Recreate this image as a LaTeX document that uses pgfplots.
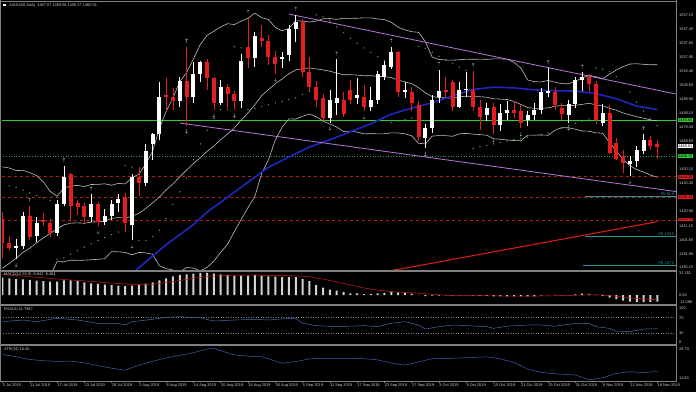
\documentclass[border=0pt]{standalone}
\usepackage{pgfplots}
\pgfplotsset{compat=1.18}
\usepackage{pgfplotstable}
\usepackage{fontspec}
\setmainfont{Liberation Sans}
\definecolor{txt}{RGB}{205,205,205}
\definecolor{sep}{RGB}{128,128,128}
\definecolor{bull}{RGB}{255,255,255}
\definecolor{bear}{RGB}{228,30,30}
\definecolor{bbc}{RGB}{190,190,190}
\definecolor{maA}{RGB}{30,40,190}
\definecolor{maB}{RGB}{215,25,25}
\definecolor{chan}{RGB}{185,120,215}
\definecolor{grn}{RGB}{50,205,50}
\definecolor{grnd}{RGB}{46,160,90}
\definecolor{sarc}{RGB}{60,170,60}
\definecolor{redd}{RGB}{175,30,30}
\definecolor{tealc}{RGB}{40,150,160}
\definecolor{macdc}{RGB}{210,210,210}
\definecolor{sigc}{RGB}{200,30,30}
\definecolor{rsic}{RGB}{75,105,175}
\definecolor{atrc}{RGB}{65,95,175}
\newcommand{\tf}{\fontsize{3.9}{4.2}\selectfont}
\pgfdeclareplotmark{fup}{\pgfsetlinewidth{0.35pt}\pgfpathmoveto{\pgfpoint{0pt}{-2pt}}\pgfpathlineto{\pgfpoint{0pt}{2pt}}\pgfpathmoveto{\pgfpoint{-1.2pt}{0.8pt}}\pgfpathlineto{\pgfpoint{0pt}{2pt}}\pgfpathlineto{\pgfpoint{1.2pt}{0.8pt}}\pgfusepathqstroke}
\pgfdeclareplotmark{fdn}{\pgfsetlinewidth{0.35pt}\pgfpathmoveto{\pgfpoint{0pt}{2pt}}\pgfpathlineto{\pgfpoint{0pt}{-2pt}}\pgfpathmoveto{\pgfpoint{-1.2pt}{-0.8pt}}\pgfpathlineto{\pgfpoint{0pt}{-2pt}}\pgfpathlineto{\pgfpoint{1.2pt}{-0.8pt}}\pgfusepathqstroke}

\pgfplotstableread{
i o h l c
2 1395 1401 1387 1396
3 1396 1420 1394 1417
5 1403 1416 1399 1412
8 1405 1428 1403 1425
9 1425 1452 1424 1444
13 1416 1432 1413 1425
15 1413 1422 1411 1417
16 1417 1428 1414 1425
17 1426 1432 1420 1429
19 1411 1446 1400 1444
21 1440 1467 1438 1462
22 1467 1475 1456 1474
23 1474 1510 1470 1500
26 1497 1514 1493 1511
28 1500 1524 1496 1516
29 1516 1525 1510 1524
32 1496 1512 1494 1507
35 1497 1530 1492 1525
37 1527 1545 1521 1542
41 1526 1531 1520 1528
42 1529 1550 1525 1547
43 1547 1557 1538 1552
48 1485 1505 1482 1498
49 1496 1526 1487 1499
52 1499 1513 1495 1501
54 1493 1507 1490 1498
55 1498 1518 1495 1516
56 1514 1525 1512 1522
57 1521 1535 1519 1531
59 1504 1510 1499 1504.5
62 1471 1481 1464 1478
63 1478 1501 1475 1498
64 1500 1519 1496 1504
67 1493 1510 1492 1505
68 1505 1517 1500 1505.5
71 1487 1496 1483 1492
73 1480 1495 1476 1489
74 1489 1497 1484 1491
77 1484 1490 1480 1487
78 1487 1496 1484 1491
79 1491 1506 1488 1503
80 1503 1520 1500 1504
83 1487 1498 1482 1495
84 1495 1514 1492 1512
85 1512 1517 1504 1514
88 1482 1495 1480 1489
92 1453 1459 1445 1455
93 1455 1466 1451 1463
94 1462 1474 1460 1470
}\bulltab

\pgfplotstableread{
i o h l c
0 1415 1420 1388 1398
1 1398 1403 1393 1395
4 1417 1424 1400 1402
6 1414 1419 1410 1412.5
7 1412 1415 1402 1405
10 1446 1447 1413 1424
11 1426 1428 1418 1423
12 1424 1426 1412 1416
14 1425 1427 1410 1413
18 1430 1433 1406 1412
20 1444 1451 1431 1440
24 1501 1513 1490 1500
25 1500 1506 1491 1497
27 1511 1535 1480 1500
30 1524 1526 1505 1513
31 1513 1514 1491 1496
33 1507 1509 1492 1502
34 1502 1504 1491 1497
36 1535 1555 1520 1527
38 1541 1550 1535 1539
39 1539 1543 1522 1528
40 1528 1532 1516 1523
44 1552 1554 1514 1517
45 1517 1528 1504 1507
46 1507 1511 1493 1498
47 1499 1502 1483 1485
50 1498 1503 1486 1488
51 1505 1512 1495 1498
53 1500 1508 1490 1493
58 1531 1532 1500 1503
60 1503 1507 1490 1496
61 1494 1497 1469 1472
65 1505 1514 1500 1503
66 1510 1512 1490 1493
69 1505 1518 1490 1493
70 1493 1498 1477 1486
72 1493 1496 1474 1480
75 1491 1497 1485 1489
76 1490 1494 1478 1482
81 1503 1507 1491 1494
82 1492 1496 1484 1488
86 1514 1516 1503 1509
87 1509 1511 1481 1484
89 1489 1494 1460 1461
90 1468 1471 1456 1457
91 1459 1463 1447 1454
95 1470 1473 1463 1466
96 1467.07 1469.58 1456.37 1465.01
}\beartab

\pgfplotstableread{
i mid up lo
0 1380.6 1451.2 1310.0
1 1384.0 1450.4 1317.6
2 1387.5 1448.6 1326.3
3 1391.6 1448.8 1334.4
4 1394.6 1447.2 1342.0
5 1398.2 1445.1 1351.2
6 1401.8 1440.7 1362.9
7 1404.8 1434.1 1375.4
8 1408.0 1430.7 1385.2
9 1410.8 1436.5 1385.1
10 1412.0 1437.8 1386.2
11 1412.2 1438.3 1386.1
12 1411.9 1437.5 1386.2
13 1412.7 1438.9 1386.5
14 1412.9 1439.0 1386.8
15 1413.3 1439.4 1387.2
16 1415.3 1438.4 1392.2
17 1415.9 1439.7 1392.0
18 1415.5 1439.3 1391.6
19 1416.8 1443.7 1389.9
20 1418.9 1446.1 1391.6
21 1422.2 1453.1 1391.3
22 1426.1 1461.8 1390.3
23 1430.2 1478.0 1382.4
24 1435.1 1489.9 1380.3
25 1439.4 1499.3 1379.4
26 1444.3 1510.5 1378.0
27 1449.0 1516.9 1381.1
28 1453.6 1526.4 1380.7
29 1457.6 1536.4 1378.7
30 1462.0 1542.8 1381.2
31 1465.7 1545.7 1385.6
32 1470.2 1548.7 1391.7
33 1474.1 1550.9 1397.2
34 1478.3 1550.3 1406.2
35 1483.7 1552.7 1414.6
36 1488.8 1554.7 1422.8
37 1494.4 1558.2 1430.6
38 1500.8 1555.1 1446.5
39 1505.0 1553.8 1456.1
40 1509.1 1548.3 1469.9
41 1512.4 1545.9 1478.9
42 1516.1 1547.6 1484.6
43 1518.7 1552.9 1484.5
44 1519.6 1552.7 1486.4
45 1520.1 1552.1 1488.0
46 1519.4 1552.7 1486.1
47 1518.7 1554.3 1483.0
48 1517.8 1554.5 1481.0
49 1516.5 1553.9 1479.0
50 1515.3 1554.7 1475.8
51 1515.4 1554.6 1476.1
52 1515.1 1554.7 1475.4
53 1514.6 1555.0 1474.2
54 1514.7 1555.0 1474.3
55 1514.2 1554.2 1474.2
56 1514.0 1553.7 1474.2
57 1513.4 1551.9 1474.9
58 1511.6 1548.5 1474.8
59 1510.4 1546.6 1474.2
60 1509.1 1545.3 1472.8
61 1506.3 1544.9 1467.6
62 1502.8 1538.4 1467.2
63 1500.1 1527.6 1472.6
64 1499.5 1526.0 1473.0
65 1499.3 1525.6 1472.9
66 1499.0 1525.5 1472.5
67 1500.0 1525.8 1474.2
68 1500.4 1526.2 1474.5
69 1500.1 1526.1 1474.0
70 1500.0 1526.2 1473.7
71 1499.7 1526.1 1473.2
72 1498.6 1526.4 1470.8
73 1498.4 1526.4 1470.4
74 1498.1 1526.2 1469.9
75 1496.7 1523.9 1469.5
76 1494.7 1520.0 1469.4
77 1492.5 1511.7 1473.3
78 1491.9 1510.5 1473.3
79 1491.9 1510.3 1473.4
80 1492.3 1511.4 1473.2
81 1493.4 1510.1 1476.7
82 1493.9 1509.2 1478.5
83 1493.7 1509.0 1478.4
84 1494.1 1510.8 1477.4
85 1494.7 1513.1 1476.2
86 1495.5 1514.9 1476.0
87 1494.4 1513.9 1474.9
88 1493.6 1512.6 1474.6
89 1492.0 1515.8 1468.2
90 1490.6 1518.7 1462.4
91 1488.7 1521.0 1456.3
92 1487.4 1522.8 1452.0
93 1486.1 1523.0 1449.2
94 1485.1 1522.6 1447.6
95 1483.9 1522.3 1445.5
96 1483.1 1522.3 1443.9
}\bbtab

\pgfplotstableread{
i v
19 1377
20 1381
22 1389
24 1397
26 1404
28 1411
30 1419.7
33 1430.0
36 1440.6
39 1450.9
42 1458.0
45 1465.0
48 1470.1
51 1475.6
54 1481.2
57 1487.9
60 1492.1
63 1495.8
66 1500.7
69 1505.1
72 1506.7
75 1506.2
78 1504.8
81 1504.2
84 1504.0
87 1502.2
90 1498.6
93 1493.5
96 1491.1
}\smaA

\pgfplotstableread{
i v
57 1379
60 1381.5
64 1385
68 1388.5
72 1392
76 1395.5
80 1399
84 1402.5
88 1406
92 1409.5
96 1413
}\smaB

\pgfplotstableread{
i s
1 1438.0
2 1437.0
3 1435.0
4 1433.1
5 1431.3
6 1429.5
7 1427.8
8 1387.0
9 1387.8
10 1390.4
11 1392.9
12 1395.3
13 1397.6
14 1399.8
15 1401.9
16 1403.9
17 1405.8
18 1452.0
19 1451.1
20 1400.0
21 1400.0
22 1402.7
23 1407.0
24 1415.2
25 1425.0
26 1433.8
27 1443.4
28 1456.2
29 1467.2
30 1476.7
31 1484.9
32 1491.0
33 1491.0
34 1535.0
35 1534.1
36 1491.0
37 1492.0
38 1493.3
39 1494.5
40 1495.7
41 1496.9
42 1498.1
43 1499.2
44 1501.5
45 1503.7
46 1557.0
47 1555.7
48 1552.8
49 1548.6
50 1544.6
51 1540.8
52 1537.3
53 1534.0
54 1530.9
55 1528.0
56 1525.2
57 1482.0
58 1483.1
59 1484.1
60 1485.1
61 1535.0
62 1533.7
63 1530.9
64 1528.2
65 1525.6
66 1523.1
67 1520.7
68 1518.4
69 1464.0
70 1465.1
71 1466.2
72 1467.2
73 1468.2
74 1469.2
75 1470.2
76 1471.1
77 1472.0
78 1472.9
79 1473.8
80 1474.7
81 1476.5
82 1478.2
83 1479.9
84 1481.5
85 1483.0
86 1484.5
87 1520.0
88 1519.2
89 1517.6
90 1514.1
91 1509.5
92 1503.3
93 1496.3
94 1490.1
95 1484.7
96 1479.9
}\sartab

\pgfplotstableread{
i y
4 1428
9 1456
13 1436
27 1539
36 1559
43 1561
49 1530
57 1539
64 1523
69 1522
80 1524
85 1521
94 1478
}\fuptab

\pgfplotstableread{
i y
2 1383
14 1406
19 1396
27 1476
31 1487
34 1487
40 1512
48 1478
53 1486
62 1460
72 1470
76 1474
83 1478
92 1441
}\fdntab

\pgfplotstableread{
i m
0 23.3
1 22.4
2 21.5
3 21.1
4 20.2
5 19.3
6 18.8
7 17.9
8 17.9
9 19.7
10 19.7
11 18.8
12 17.0
13 15.7
14 14.8
15 13.9
16 13.4
17 12.5
18 12.1
19 12.5
20 13.4
21 15.2
22 17.0
23 19.7
24 22.4
25 25.1
26 26.9
27 27.8
28 28.7
29 29.6
30 29.6
31 28.7
32 27.8
33 26.9
34 26.0
35 26.0
36 26.0
37 26.9
38 26.0
39 25.1
40 24.6
41 24.2
42 24.2
43 24.2
44 21.5
45 18.8
46 13.4
47 9.8
48 7.2
49 5.8
50 4.0
51 2.2
52 2.2
53 1.3
54 1.3
55 2.2
56 2.7
57 4.5
58 3.6
59 2.7
60 1.8
61 0.2
62 -1.5
63 -1.0
64 -0.8
65 -0.5
66 -0.8
67 -0.5
68 -0.4
69 -0.7
70 -1.2
71 -1.3
72 -1.8
73 -1.8
74 -1.7
75 -1.7
76 -1.9
77 -1.9
78 -1.7
79 -0.8
80 0.2
81 0.1
82 -0.4
83 -0.2
84 1.0
85 1.8
86 1.6
87 0.3
88 -1.5
89 -3.6
90 -5.5
91 -7.5
92 -9.0
93 -9.6
94 -9.5
95 -9.2
96 -8.84
}\macdtab

\pgfplotstableread{
i s
0 27.5
4 24.5
8 21.5
12 19.0
16 16.0
19 14.3
22 14.5
25 18.0
28 22.5
30 25.0
33 26.5
36 26.8
40 26.3
43 25.8
45 24.5
47 21.5
49 17.5
51 13.5
53 9.5
55 6.5
57 4.5
59 3.5
61 2.5
63 0.8
65 -0.3
68 -0.6
72 -1.2
76 -1.6
80 -1.2
84 -0.4
86 0.4
88 0
90 -1.8
92 -3.9
94 -5.4
96 -6.46
}\sigtab

\pgfplotstableread{
i r
0 59.8
3 64.1
5 59.8
8 68.4
11 64.1
14 55.6
17 55.6
18 51.3
19 59.8
22 65.8
24 70.9
26 72.6
29 69.5
31 61.5
34 64.1
37 65.8
39 64.1
41 67.0
43 68.4
44 55.6
46 49.6
49 47.0
51 48.3
53 49.6
55 47.0
57 55.6
59 59.8
61 51.3
62 41.0
64 47.0
66 51.3
68 49.6
71 47.0
72 42.7
74 48.3
77 51.3
79 51.3
81 48.3
84 55.6
86 55.6
87 47.0
89 42.7
90 35.9
92 34.2
94 41.0
96 41.79
}\rsitab

\pgfplotstableread{
i a
0 24.6
2 23.5
4 22.2
6 21.6
8 21.3
10 21.4
12 20.6
14 19.3
16 18.0
18 17.0
20 19.5
22 21.3
24 23.0
26 24.2
28 25.5
30 27.3
31 27.6
32 26.5
34 24.4
36 23.8
38 23.5
40 21.5
41 20.4
43 21.2
45 22.5
47 22.8
50 22.8
53 22.6
55 22.0
57 20.5
59 19.5
61 21.0
63 22.6
66 22.8
69 23.2
71 23.5
73 22.5
75 20.8
77 17.5
79 16.0
81 15.3
84 14.7
86 12.4
88 13.4
90 15.5
92 16.3
94 15.9
96 16.4
}\atrtab

\begin{document}
\begin{tikzpicture}[x=1pt,y=1pt]
\useasboundingbox (0,0) rectangle (696,-392);
\fill[black] (0,0) rectangle (696,-392);

% ---------------- main price window
\begin{axis}[at={(2pt,-270pt)}, anchor=south west, scale only axis,
  width=674pt, height=268pt, xmin=-0.07, xmax=98.75, ymin=1379.36, ymax=1566.0,
  hide axis, clip=true]
% horizontal levels
\addplot[grn, line width=0.8pt] coordinates {(-1,1483.8) (100,1483.8)};
\addplot[grnd, line width=0.6pt, dotted] coordinates {(-1,1458.7) (100,1458.7)};
\addplot[redd, line width=0.6pt, dashed] coordinates {(-1,1444.3) (100,1444.3)};
\addplot[redd, line width=0.6pt, dashed] coordinates {(-1,1430.2) (100,1430.2)};
\addplot[redd, line width=0.6pt, dashed] coordinates {(-1,1413.7) (100,1413.7)};
\addplot[tealc, line width=0.6pt] coordinates {(85.4,1431.0) (100,1431.0)};
\addplot[tealc, line width=0.6pt] coordinates {(85.4,1403.0) (100,1403.0)};
\addplot[tealc, line width=0.6pt] coordinates {(85.1,1382.9) (100,1382.9)};
% bollinger
\addplot[bbc, line width=0.6pt] table[x=i,y=up] {\bbtab};
\addplot[bbc, line width=0.6pt] table[x=i,y=mid] {\bbtab};
\addplot[bbc, line width=0.6pt] table[x=i,y=lo] {\bbtab};
% moving averages
\addplot[maA, line width=1.6pt] table[x=i,y=v] {\smaA};
\addplot[maB, line width=1.1pt] table[x=i,y=v] {\smaB};
% channel
\addplot[chan, line width=0.8pt] coordinates {(42.0,1557.6) (98.75,1501.9)};
\addplot[chan, line width=0.8pt] coordinates {(26.0,1481.7) (98.75,1434.0)};
% parabolic SAR
\addplot[only marks, mark=*, mark size=0.45pt, color=sarc] table[x=i,y=s] {\sartab};
% candles: wicks
\addplot[draw=none, mark=none, error bars/.cd, y dir=both, y explicit, error mark=none,
  error bar style={draw=bull, line width=0.7pt}]
  table[x=i, y expr=(\thisrow{h}+\thisrow{l})/2, y error expr=(\thisrow{h}-\thisrow{l})/2] {\bulltab};
\addplot[draw=none, mark=none, error bars/.cd, y dir=both, y explicit, error mark=none,
  error bar style={draw=bear, line width=0.7pt}]
  table[x=i, y expr=(\thisrow{h}+\thisrow{l})/2, y error expr=(\thisrow{h}-\thisrow{l})/2] {\beartab};
% candles: bodies
\addplot[draw=none, mark=none, error bars/.cd, y dir=both, y explicit, error mark=none,
  error bar style={draw=bull, line width=4pt}]
  table[x=i, y expr=(\thisrow{o}+\thisrow{c})/2, y error expr={max(abs(\thisrow{c}-\thisrow{o})/2,0.35)}] {\bulltab};
\addplot[draw=none, mark=none, error bars/.cd, y dir=both, y explicit, error mark=none,
  error bar style={draw=bear, line width=4pt}]
  table[x=i, y expr=(\thisrow{o}+\thisrow{c})/2, y error expr={max(abs(\thisrow{c}-\thisrow{o})/2,0.35)}] {\beartab};
% fractals
\addplot[only marks, mark=fup, color=gray!80] table[x=i,y=y] {\fuptab};
\addplot[only marks, mark=fdn, color=gray!80] table[x=i,y=y] {\fdntab};
\end{axis}

% ---------------- MACD window
\begin{axis}[at={(2pt,-304pt)}, anchor=south west, scale only axis,
  width=674pt, height=33pt, xmin=-0.07, xmax=98.75, ymin=-12.1, ymax=32.25,
  hide axis, clip=true]
\addplot[ybar, bar width=2pt, fill=macdc, draw=none] table[x=i,y=m] {\macdtab};
\addplot[sigc, line width=0.5pt] table[x=i,y=s] {\sigtab};
\end{axis}

% ---------------- RSI window
\begin{axis}[at={(2pt,-344pt)}, anchor=south west, scale only axis,
  width=674pt, height=38pt, xmin=-0.07, xmax=98.75, ymin=2.56, ymax=100,
  hide axis, clip=true]
\addplot[sep, line width=0.5pt, dotted] coordinates {(-1,70) (100,70)};
\addplot[sep, line width=0.5pt, dotted] coordinates {(-1,30) (100,30)};
\addplot[rsic, line width=0.5pt] table[x=i,y=r] {\rsitab};
\end{axis}

% ---------------- ATR window with time scale
\begin{axis}[at={(2pt,-381pt)}, anchor=south west, scale only axis,
  width=674pt, height=35pt, xmin=-0.07, xmax=98.75, ymin=11.83, ymax=28.7,
  axis line style={draw=none}, ytick=\empty, xtick pos=bottom, tick align=outside,
  major tick length=2pt, xtick style={draw=sep, line width=0.5pt},
  xtick={0,4,...,96},
  xticklabels={5 Jul 2019,11 Jul 2019,17 Jul 2019,23 Jul 2019,29 Jul 2019,2 Aug 2019,8 Aug 2019,14 Aug 2019,20 Aug 2019,26 Aug 2019,30 Aug 2019,5 Sep 2019,11 Sep 2019,17 Sep 2019,23 Sep 2019,27 Sep 2019,3 Oct 2019,9 Oct 2019,15 Oct 2019,21 Oct 2019,25 Oct 2019,31 Oct 2019,6 Nov 2019,12 Nov 2019,18 Nov 2019},
  xticklabel style={anchor=north west, font=\tf, text=txt, inner sep=0.5pt, xshift=-0.3pt},
  clip=true]
\addplot[atrc, line width=0.5pt] table[x=i,y=a] {\atrtab};
\end{axis}

% ---------------- window frames and separators
\draw[sep, line width=1pt] (0.5,0) -- (0.5,-381.5);
\draw[sep, line width=1pt] (0,-1) -- (676.5,-1);
\draw[sep, line width=2pt] (0,-270.5) -- (677,-270.5);
\draw[sep, line width=2pt] (0,-305) -- (677,-305);
\draw[sep, line width=2pt] (0,-345) -- (677,-345);
\draw[sep, line width=1pt] (0,-381.5) -- (677,-381.5);
\draw[sep, line width=1pt] (676.5,0) -- (676.5,-381.5);

% ---------------- titles
\fill[white] (3.2,-3.8) rectangle (5.8,-6.4);
\node[anchor=west, font=\tf, text=txt, inner sep=0pt] at (9,-5.2) {XAUUSD,Daily\ \ 1467.07 1469.58 1456.37 1465.01};
\node[anchor=west, font=\tf, text=txt, inner sep=0pt] at (4,-274.5) {MACD(12,26,9) -8.843 -6.464};
\node[anchor=west, font=\tf, text=txt, inner sep=0pt] at (4,-309) {RSI(14) 41.7947};
\node[anchor=west, font=\tf, text=txt, inner sep=0pt] at (4,-349) {ATR(14) 16.40};
\node[anchor=south east, font=\tf, text=tealc, inner sep=0.4pt] at (675,-196) {FE 61.8};
\node[anchor=south east, font=\tf, text=tealc, inner sep=0.4pt] at (675,-236) {FE 100.0};
\node[anchor=south east, font=\tf, text=tealc, inner sep=0.4pt] at (675,-265) {FE 127.2};

% ---------------- price scale
\foreach \yy/\lab in {14.7/1557.15,28.7/1547.40,42.7/1537.65,56.7/1527.90,70.7/1518.40,84.7/1508.65,98.7/1498.90,112.7/1489.15,126.7/1479.40,140.7/1469.65,168.7/1450.15,182.7/1440.40,210.7/1420.90,226/1411.15,239.7/1401.65,253.7/1391.90,266.7/1382.15}{
  \node[anchor=west, font=\tf, text=txt, inner sep=0pt] at (679,-\yy) {\lab};}
\node[anchor=west, font=\tf, text=black, fill=grn, inner sep=0.6pt] at (677.5,-120) {1483.84};
\node[anchor=west, font=\tf, text=black, fill=white, inner sep=0.6pt] at (677.5,-146) {1465.01};
\node[anchor=west, font=\tf, text=black, fill=grn, inner sep=0.6pt] at (677.5,-156) {1458.72};
\node[anchor=west, font=\tf, text=black, fill=bear, inner sep=0.6pt] at (677.5,-176.7) {1444.30};
\node[anchor=west, font=\tf, text=black, fill=bear, inner sep=0.6pt] at (677.5,-197) {1430.19};
\node[anchor=west, font=\tf, text=black, fill=bear, inner sep=0.6pt] at (677.5,-219.5) {1413.70};
% indicator scales
\foreach \yy/\lab in {273.5/32.251,295/0.00,301.8/-11.096,308.5/100,317.7/70,333.3/30,342/0,349/28.70,378.5/11.83}{
  \node[anchor=west, font=\tf, text=txt, inner sep=0pt] at (679,-\yy) {\lab};}
\end{tikzpicture}
\end{document}
